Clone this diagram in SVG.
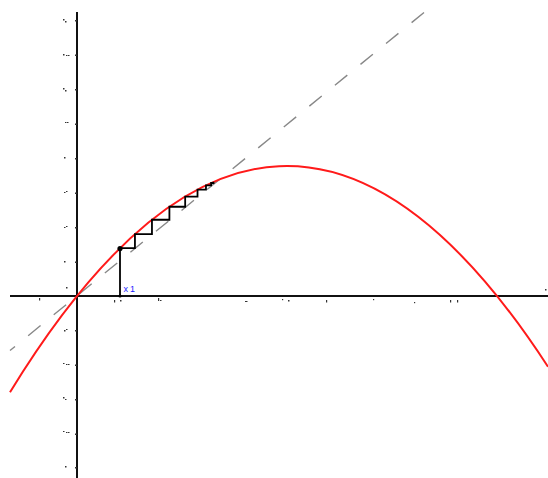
<svg xmlns="http://www.w3.org/2000/svg" width="548" height="478" viewBox="0 0 548 478">
<style>
.axis{stroke:#111;stroke-width:2;fill:none}
.diag{stroke:#888;stroke-width:1.4;stroke-dasharray:16 17;fill:none}
.curve{stroke:#ff1a1a;stroke-width:2;fill:none}
.stair{stroke:#000;stroke-width:1.8;fill:none}
.speck{fill:#333}
.lbl{font-family:"Liberation Sans",Arial,sans-serif;font-size:9px;fill:#1a1aff;letter-spacing:2px}
</style>
<rect width="548" height="478" fill="#fff"/>
<g id="axes">
<line class="axis" x1="77" y1="12" x2="77" y2="478"/>
<line class="axis" x1="10" y1="296" x2="548" y2="296"/>
</g>
<g id="ticks">
<rect class="speck" x="75" y="20" width="2" height="1.5"/>
<rect class="speck" x="75" y="54.5" width="2" height="1.5"/>
<rect class="speck" x="75" y="89" width="2" height="1.5"/>
<rect class="speck" x="75" y="123.5" width="2" height="1.5"/>
<rect class="speck" x="75" y="158" width="2" height="1.5"/>
<rect class="speck" x="75" y="192.5" width="2" height="1.5"/>
<rect class="speck" x="75" y="227" width="2" height="1.5"/>
<rect class="speck" x="75" y="261.5" width="2" height="1.5"/>
<rect class="speck" x="75" y="330" width="2" height="1.5"/>
<rect class="speck" x="75" y="364.5" width="2" height="1.5"/>
<rect class="speck" x="75" y="399" width="2" height="1.5"/>
<rect class="speck" x="75" y="433.5" width="2" height="1.5"/>
<rect class="speck" x="75" y="467" width="2" height="1.5"/>
<rect class="speck" x="63" y="19" width="1.5" height="1.5"/><rect class="speck" x="65" y="21" width="1.5" height="1.5"/>
<rect class="speck" x="63" y="54" width="1.5" height="1.5"/><rect class="speck" x="66" y="55" width="1.5" height="1"/><rect class="speck" x="68" y="55" width="1.5" height="1"/>
<rect class="speck" x="63" y="88" width="1.5" height="1.5"/><rect class="speck" x="65" y="90" width="1.5" height="1.5"/>
<rect class="speck" x="65" y="122" width="1.5" height="1"/><rect class="speck" x="67" y="122" width="1.5" height="1"/>
<rect class="speck" x="64" y="157" width="1.5" height="1.5"/>
<rect class="speck" x="64" y="192" width="1.5" height="1"/><rect class="speck" x="66" y="191" width="1.5" height="1"/>
<rect class="speck" x="64" y="227" width="1.5" height="1"/><rect class="speck" x="66" y="226" width="1.5" height="1"/>
<rect class="speck" x="64" y="261" width="1.5" height="1.5"/>
<rect class="speck" x="66" y="287" width="1.5" height="1.5"/>
<rect class="speck" x="64" y="330" width="1.5" height="1.5"/><rect class="speck" x="66" y="329" width="1.5" height="1"/>
<rect class="speck" x="63" y="363" width="1.5" height="1"/><rect class="speck" x="66" y="364" width="1.5" height="1"/><rect class="speck" x="68" y="364" width="1.5" height="1"/>
<rect class="speck" x="63" y="397" width="1.5" height="1.5"/><rect class="speck" x="65" y="399" width="1.5" height="1"/>
<rect class="speck" x="63" y="431" width="1.5" height="1"/><rect class="speck" x="66" y="432" width="1.5" height="1"/><rect class="speck" x="68" y="432" width="1.5" height="1"/>
<rect class="speck" x="65" y="466" width="1.5" height="1.5"/>
<rect class="speck" x="39" y="298" width="1.2" height="2.5"/>
<rect class="speck" x="114" y="300" width="1.2" height="2.5"/><rect class="speck" x="120" y="300" width="1.5" height="1.5"/>
<rect class="speck" x="158" y="298" width="1.2" height="3"/><rect class="speck" x="160" y="300" width="1.5" height="1"/>
<rect class="speck" x="245" y="301" width="2.5" height="1"/>
<rect class="speck" x="282" y="299" width="1.2" height="1.2"/><rect class="speck" x="288" y="300" width="1.5" height="1.5"/>
<rect class="speck" x="326" y="300" width="1.2" height="2.5"/>
<rect class="speck" x="373" y="299" width="1.2" height="1.2"/>
<rect class="speck" x="414" y="302" width="1.2" height="1.2"/>
<rect class="speck" x="450" y="300" width="1.2" height="2.5"/><rect class="speck" x="457" y="300" width="1.2" height="2.5"/>
<rect class="speck" x="545" y="289" width="1.5" height="1.5"/>
</g>
<g id="connectors">
<line id="diagonal" class="diag" x1="424" y1="12.5" x2="10" y2="350.5"/>
<path id="parabola" class="curve" d="M10,392.2 Q279,-47.1 548,366.8"/>
<path id="cobweb" class="stair" d="M120,296 V248.2 H134.94 V234.16 H151.96 V219.76 H169.41 V206.76 H185.17 V196.57 H197.52 V189.6 H205.97 V185.36 H211.11 V182.98 H213.5 V181.7"/>
</g>
<g id="start-point">
<circle cx="120" cy="248.5" r="2.6" fill="#000"/>
<circle cx="120" cy="296" r="1.6" fill="#000"/>
<text class="lbl" x="123.5" y="292">x1</text>
</g>
</svg>
